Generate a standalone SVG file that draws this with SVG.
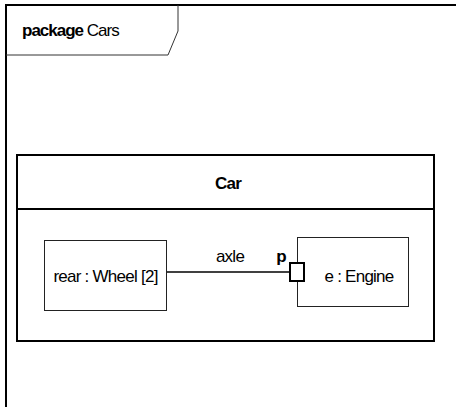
<svg xmlns="http://www.w3.org/2000/svg" width="456" height="407" viewBox="0 0 456 407">
<style>
text{font-family:"Liberation Sans",Arial,sans-serif;font-size:17px;fill:#000;letter-spacing:-0.75px}
.b{font-weight:bold}
.frame{fill:none;stroke:#000;stroke-width:2}
.tab{fill:none;stroke:#333;stroke-width:1}
.part{fill:#fff;stroke:#222;stroke-width:1}
.blk{fill:#fff;stroke:#000;stroke-width:2}
.con{stroke:#000;stroke-width:1.3;fill:none}
</style>
<rect width="456" height="407" fill="#fff"/>
<g id="package-Cars">
<path class="frame" d="M6,420 V5 H470"/>
<path class="tab" d="M178,5 V31 L168,55 H6"/>
<text x="22" y="36" style="letter-spacing:-1px"><tspan class="b">package</tspan> Cars</text>
</g>
<g id="Car">
<rect class="blk" x="17" y="155" width="417" height="186"/>
<line class="blk" x1="17" y1="209" x2="434" y2="209"/>
<text class="b" x="228" y="189" text-anchor="middle">Car</text>
</g>
<g id="rear">
<rect class="part" x="44.5" y="240.5" width="122" height="70"/>
<text x="105.5" y="282" text-anchor="middle">rear : Wheel [2]</text>
</g>
<g id="e">
<rect class="part" x="297.5" y="237.5" width="111" height="69"/>
<text x="359" y="282" text-anchor="middle">e : Engine</text>
</g>
<g id="connectors">
<line class="con" x1="167" y1="272" x2="290" y2="272"/>
<text x="230" y="262" text-anchor="middle">axle</text>
</g>
<g id="port-p">
<rect x="290" y="263" width="14" height="18" fill="#fff" stroke="#000" stroke-width="2"/>
<text class="b" x="281" y="262" text-anchor="middle">p</text>
</g>
</svg>
